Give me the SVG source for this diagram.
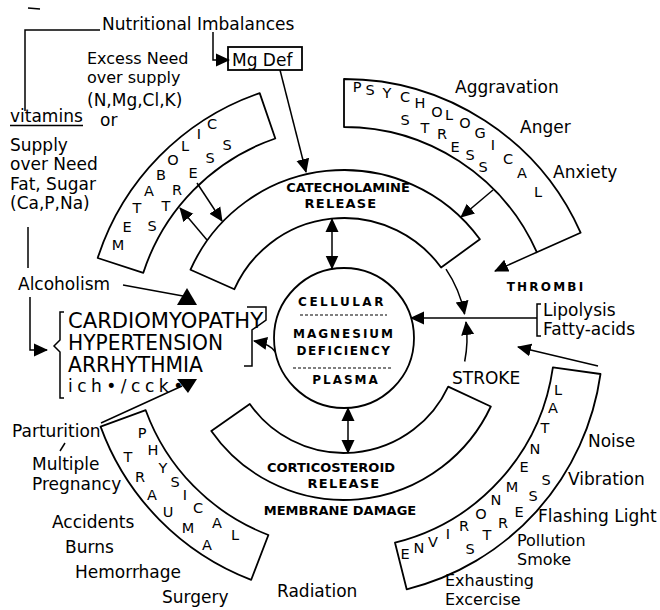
<svg xmlns="http://www.w3.org/2000/svg" width="660" height="610" viewBox="0 0 660 610">
<style>
.t{font-family:"DejaVu Sans","Liberation Sans",sans-serif;font-size:17px;fill:#000}
.s{font-size:16px}
.bl{font-family:"DejaVu Sans","Liberation Sans",sans-serif;font-size:14.5px;fill:#000;text-anchor:middle}
.bd{font-family:"DejaVu Sans","Liberation Sans",sans-serif;font-weight:bold;font-size:13px;fill:#000;text-anchor:middle}
.c{font-family:"DejaVu Sans","Liberation Sans",sans-serif;font-weight:bold;font-size:12px;fill:#000;text-anchor:middle}
.big{font-family:"DejaVu Sans","Liberation Sans",sans-serif;font-size:20.5px;fill:#000}
.band{fill:#fff;stroke:#000;stroke-width:1.8;stroke-linejoin:round}
.ln{fill:none;stroke:#000;stroke-width:1.5}
.ar{fill:none;stroke:#000;stroke-width:1.5;marker-end:url(#ah)}
.dar{fill:none;stroke:#000;stroke-width:1.5;marker-start:url(#ah);marker-end:url(#ah)}
.dash{fill:none;stroke:#000;stroke-width:1.2;stroke-dasharray:3 2}
.tri{fill:#000}
</style>
<defs>
<marker id="ah" viewBox="0 0 14 14" refX="13" refY="7" markerWidth="14" markerHeight="14" markerUnits="userSpaceOnUse" orient="auto-start-reverse"><path d="M0,0.5 L14,7 L0,13.5 Z" fill="#000"/></marker>
</defs>
<rect x="0" y="0" width="660" height="610" fill="#fff"/>

<g id="metabolic-stress">
<path class="band" d="M97.7 258 A259 259 0 0 1 259.7 93.1 L275.3 138.5 A211 211 0 0 0 143.3 272.8 Z"/>
<text class="bl" x="118" y="250">M</text><text class="bl" x="127" y="232">E</text><text class="bl" x="137" y="213">T</text><text class="bl" x="149" y="196">A</text><text class="bl" x="161" y="180">B</text><text class="bl" x="173" y="165">O</text><text class="bl" x="185" y="151">L</text><text class="bl" x="199" y="139">I</text><text class="bl" x="212" y="129">C</text>
<text class="bl" x="152" y="231">S</text><text class="bl" x="166" y="211">T</text><text class="bl" x="177" y="195">R</text><text class="bl" x="193" y="178">E</text><text class="bl" x="210" y="163">S</text><text class="bl" x="227" y="150">S</text>
</g>

<g id="psychological-stress">
<path class="band" d="M344 79 A259 259 0 0 1 580.6 232.7 L536.8 252.2 A211 211 0 0 0 344 127 Z"/>
<text class="bl" x="357" y="92">P</text><text class="bl" x="370" y="95">S</text><text class="bl" x="387" y="98">Y</text><text class="bl" x="405" y="102">C</text><text class="bl" x="420" y="108">H</text><text class="bl" x="437" y="117">O</text><text class="bl" x="449" y="120">L</text><text class="bl" x="465" y="128">O</text><text class="bl" x="480" y="138">G</text><text class="bl" x="493" y="150">I</text><text class="bl" x="508" y="164">C</text><text class="bl" x="522" y="178">A</text><text class="bl" x="538" y="197">L</text>
<text class="bl" x="405" y="125">S</text><text class="bl" x="425" y="133">T</text><text class="bl" x="442" y="139">R</text><text class="bl" x="455" y="152">E</text><text class="bl" x="470" y="160">S</text><text class="bl" x="483" y="172">S</text>
</g>

<g id="environmental-stress">
<path class="band" d="M552.9 367.4 L600.5 374 A259 259 0 0 1 406.7 589.3 L395 542.7 A211 211 0 0 0 552.9 367.4 Z"/>
<text class="bl" x="405" y="559">E</text><text class="bl" x="419" y="553">N</text><text class="bl" x="433" y="547">V</text><text class="bl" x="448" y="539">I</text><text class="bl" x="464" y="531">R</text><text class="bl" x="481" y="519">O</text><text class="bl" x="496" y="505">N</text><text class="bl" x="512" y="492">M</text><text class="bl" x="524" y="472">E</text><text class="bl" x="535" y="454">N</text><text class="bl" x="545" y="433">T</text><text class="bl" x="553" y="413">A</text><text class="bl" x="558" y="395">L</text>
<text class="bl" x="470" y="554">S</text><text class="bl" x="487" y="540">T</text><text class="bl" x="503" y="528">R</text><text class="bl" x="519" y="517">E</text><text class="bl" x="533" y="501">S</text><text class="bl" x="546" y="485">S</text>
</g>

<g id="physical-trauma">
<path class="band" d="M268.4 535 L251.2 579.8 A259 259 0 0 1 100.6 426.6 L145.7 410.2 A211 211 0 0 0 268.4 535 Z"/>
<text class="bl" x="142" y="438">P</text><text class="bl" x="153" y="455">H</text><text class="bl" x="163" y="473">Y</text><text class="bl" x="175" y="487">S</text><text class="bl" x="185" y="500">I</text><text class="bl" x="198" y="513">C</text><text class="bl" x="217" y="528">A</text><text class="bl" x="235" y="540">L</text>
<text class="bl" x="128" y="462">T</text><text class="bl" x="140" y="482">R</text><text class="bl" x="152" y="500">A</text><text class="bl" x="168" y="517">U</text><text class="bl" x="188" y="533">M</text><text class="bl" x="207" y="550">A</text>
</g>

<g id="catecholamine-release">
<path class="band" d="M190.5 269.7 A168 168 0 0 1 479.9 239.3 L441.1 267.5 A120 120 0 0 0 234.4 289.2 Z"/>
<text class="bd" x="348" y="192">CATECHOLAMINE</text>
<text class="bd" x="341" y="208" letter-spacing="1.2">RELEASE</text>
</g>

<g id="corticosteroid-release">
<path class="band" d="M490.8 406.5 A162 162 0 0 1 211.3 430.9 L249.8 404 A115 115 0 0 0 448.2 386.6 Z"/>
<text class="bd" x="331" y="472">CORTICOSTEROID</text>
<text class="bd" x="344" y="488" letter-spacing="1.2">RELEASE</text>
</g>
<g id="membrane-damage"><text class="bd" x="340" y="515">MEMBRANE DAMAGE</text></g>

<g id="magnesium-deficiency">
<circle cx="344" cy="338" r="70" fill="#fff" stroke="#000" stroke-width="1.8"/>
<text class="c" x="342" y="306" letter-spacing="2.5">CELLULAR</text>
<line class="dash" x1="300" y1="315" x2="387" y2="315"/>
<text class="c" x="344" y="337.5" letter-spacing="2">MAGNESIUM</text>
<text class="c" x="344" y="354.5" letter-spacing="1.5">DEFICIENCY</text>
<line class="dash" x1="293" y1="368" x2="393" y2="368"/>
<text class="c" x="346" y="383.5" letter-spacing="2">PLASMA</text>
</g>

<g id="mg-def">
<rect x="228" y="47" width="74" height="23" fill="#fff" stroke="#000" stroke-width="1.8"/>
<text class="t" x="232" y="66" font-size="18">Mg Def</text>
</g>

<g id="nutritional-imbalances"><text class="t" x="102" y="30">Nutritional Imbalances</text></g>
<g id="excess-need">
<text class="t s" x="87" y="64">Excess Need</text>
<text class="t s" x="87" y="83">over supply</text>
<text class="t" x="87" y="106">(N,Mg,Cl,K)</text>
<text class="t" x="100" y="126">or</text>
</g>
<g id="vitamins">
<text class="t" x="10" y="122">vitamins</text>
<line class="ln" x1="10" y1="125.5" x2="83" y2="125.5" stroke-width="1.2"/>
<text class="t" x="10" y="151">Supply</text>
<text class="t" x="10" y="170">over Need</text>
<text class="t" x="10" y="190">Fat, Sugar</text>
<text class="t" x="10" y="209">(Ca,P,Na)</text>
</g>
<g id="alcoholism"><text class="t" x="18" y="290" font-size="18">Alcoholism</text></g>

<g id="cardio">
<path class="ln" d="M64 312 L60 312 L60 340 L54 346 L60 352 L60 398 L64 398"/>
<text class="big" x="68" y="328" textLength="195" lengthAdjust="spacingAndGlyphs">CARDIOMYOPATHY</text>
<text class="big" x="68" y="350" textLength="155" lengthAdjust="spacingAndGlyphs">HYPERTENSION</text>
<text class="big" x="68" y="372" textLength="135" lengthAdjust="spacingAndGlyphs">ARRHYTHMIA</text>
<text class="t" x="68" y="392" font-size="12" letter-spacing="4.5">ich•/cck•</text>
<path class="ln" d="M247 307 L266 307 L266 320 L252 330 L252 366 L244 366"/>
</g>

<g id="psych-labels">
<text class="t" x="455" y="93">Aggravation</text>
<text class="t" x="520" y="133">Anger</text>
<text class="t" x="553" y="178">Anxiety</text>
</g>
<g id="thrombi"><text class="c" x="546" y="291" font-size="10" letter-spacing="2.2">THROMBI</text></g>
<g id="lipolysis">
<path class="ln" d="M541 304 L537 304 L537 336 L541 336"/>
<text class="t" x="543" y="316" font-size="15.5">Lipolysis</text>
<text class="t" x="543" y="335" font-size="15.5">Fatty-acids</text>
</g>
<g id="stroke"><text class="t" x="452" y="384" font-size="19.5">STROKE</text></g>
<g id="env-labels">
<text class="t" x="588" y="447">Noise</text>
<text class="t" x="568" y="485">Vibration</text>
<text class="t" x="538" y="522">Flashing Light</text>
<text class="t s" x="517" y="546">Pollution</text>
<text class="t s" x="517" y="565">Smoke</text>
<text class="t s" x="445" y="586">Exhausting</text>
<text class="t s" x="445" y="605">Excercise</text>
</g>
<g id="trauma-labels">
<text class="t" x="12" y="437">Parturition</text>
<text class="t" x="32" y="470">Multiple</text>
<text class="t" x="32" y="490">Pregnancy</text>
<text class="t" x="52" y="528">Accidents</text>
<text class="t" x="65" y="553">Burns</text>
<text class="t" x="75" y="578">Hemorrhage</text>
<text class="t" x="162" y="603">Surgery</text>
<text class="t" x="277" y="597">Radiation</text>
</g>

<g id="connectors">
<line class="ln" x1="28" y1="8" x2="40" y2="9"/>
<path class="ln" d="M100 30 L25 30 L25 111"/>
<path class="ln" d="M28 227 L28 268"/>
<path class="ar" d="M30 297 L30 350 L47 350"/>
<path class="ar" d="M213 32 L213 60 L229 60"/>
<path class="ar" d="M280 70 L306 172"/>
<path class="ar" d="M197 183 L222 221"/>
<path class="ar" d="M207 240 L180 208"/>
<path class="ar" d="M493 190 L461 217"/>
<path class="ar" d="M536.8 252.2 L495 271"/>
<path class="dar" d="M332 219 L332 268.5"/>
<path class="dar" d="M348 408 L348 453"/>
<path class="ar" d="M537 318 L411 318"/>
<path class="ar" d="M446 269.2 A123 123 0 0 1 464.6 314"/>
<path class="ar" d="M464.7 361.5 A123 123 0 0 0 466 322"/>
<path class="ar" d="M598 366 L518 347"/>
<path class="ar" d="M275.4 352 Q270 344 254 341"/>
<path class="ln" d="M123 285 L183 296"/>
<polygon class="tri" points="187,288 177,305 197,305"/>
<path class="ln" d="M101 423 L182 386"/>
<polygon class="tri" points="177,379 197,379 188,393"/>
<path class="ln" d="M60 451 L65 443"/>
</g>
</svg>
